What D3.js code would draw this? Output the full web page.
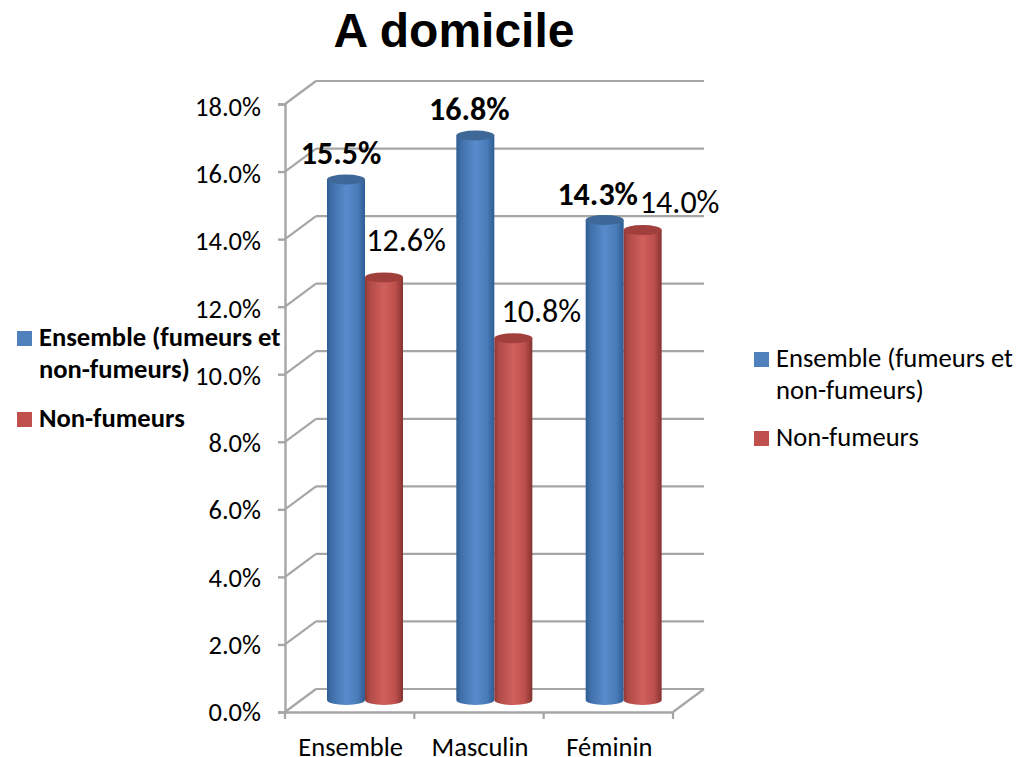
<!DOCTYPE html>
<html>
<head>
<meta charset="utf-8">
<script src="https://cdn.jsdelivr.net/npm/d3@7"></script>
<style>
html, body { margin: 0; padding: 0; background: #fff; }
svg { display: block; }
text { font-family: Carlito, Lato, "Open Sans", sans-serif; fill: #000; }
</style>
</head>
<body>
<div id="chart"></div>
<script>
var categories = ["Ensemble", "Masculin", "Féminin"];
var seriesNames = ["Ensemble (fumeurs et non-fumeurs)", "Non-fumeurs"];
var ensemble = [15.5, 16.8, 14.3];
var nonFumeurs = [12.6, 10.8, 14.0];
var yTicks = [0, 2, 4, 6, 8, 10, 12, 14, 16, 18];

var width = 1029, height = 757;
var depthX = 31, depthY = 23;

var svg = d3.select("#chart").append("svg")
	.attr("width", width)
	.attr("height", height);

var y = d3.scaleLinear().domain([0, 18]).range([712, 104]);
var x = d3.scaleBand().domain(categories).range([285, 673]);
var inner = d3.scaleBand().domain(seriesNames).range([42, 118]);

// cylinder shading
var defs = svg.append("defs");
function gradient(id, stops) {
	var g = defs.append("linearGradient").attr("id", id);
	stops.forEach(function(s) {
		g.append("stop").attr("offset", s[0]).attr("stop-color", s[1]);
	});
}
gradient("blueBar", [[0, "#2f5c92"], [0.12, "#3f6fa9"], [0.5, "#588bcb"], [0.8, "#4a7cb9"], [1, "#2f5d94"]]);
gradient("redBar", [[0, "#8f3836"], [0.12, "#b04a47"], [0.5, "#d0605c"], [0.8, "#bd4f4c"], [1, "#843432"]]);

var grey = "#a6a6a6";

// back wall and side wall lines
svg.selectAll("line.grid").data(yTicks).enter().append("line")
	.attr("class", "grid")
	.attr("x1", x.range()[0] + depthX)
	.attr("x2", x.range()[1] + depthX)
	.attr("y1", function(d) { return y(d) - depthY; })
	.attr("y2", function(d) { return y(d) - depthY; })
	.attr("stroke", grey).attr("stroke-width", 2.2);
svg.selectAll("line.side").data(yTicks).enter().append("line")
	.attr("class", "side")
	.attr("x1", x.range()[0])
	.attr("x2", x.range()[0] + depthX)
	.attr("y1", function(d) { return y(d); })
	.attr("y2", function(d) { return y(d) - depthY; })
	.attr("stroke", grey).attr("stroke-width", 2.2);
svg.append("line")
	.attr("x1", x.range()[1]).attr("x2", x.range()[1] + depthX)
	.attr("y1", y(0)).attr("y2", y(0) - depthY)
	.attr("stroke", grey).attr("stroke-width", 2.2);

// axes
var yAxis = svg.append("g")
	.attr("transform", "translate(" + x.range()[0] + ",0)")
	.call(d3.axisLeft(y).tickValues(yTicks).tickSize(7).tickPadding(17)
		.tickFormat(function(d) { return d3.format(".1f")(d) + "%"; }));
var xAxis = svg.append("g")
	.attr("transform", "translate(0," + y(0) + ")")
	.call(d3.axisBottom(x).tickSize(0).tickPadding(25));
svg.selectAll("line.xtick").data(d3.range(categories.length + 1)).enter().append("line")
	.attr("class", "xtick")
	.attr("x1", function(i) { return x.range()[0] + i * x.step(); })
	.attr("x2", function(i) { return x.range()[0] + i * x.step(); })
	.attr("y1", y(0)).attr("y2", y(0) + 7)
	.attr("stroke", grey).attr("stroke-width", 2.2);
[yAxis, xAxis].forEach(function(a) {
	a.selectAll("path, .tick line").attr("stroke", grey).attr("stroke-width", 2.4);
	a.selectAll("text").style("font-size", "26.5px")
		.style("font-family", "Carlito, Lato, sans-serif").attr("fill", "#000");
});
xAxis.selectAll(".tick text").attr("dx", 1);
// the printed labels sit a little lower than their ticks toward the top
yAxis.selectAll(".tick text").attr("y", function(d) { return d / 6; });

// bars, drawn as cylinders
var baseDepth = 12, topDepth = 9, rx = 19, ry = 5;
function cylinders(values, name, fillId, topColor) {
	var g = svg.append("g").selectAll("g").data(values).enter().append("g");
	function cx(d, i) { return x(categories[i]) + inner(name) + inner.bandwidth() / 2; }
	g.append("path")
		.attr("fill", "url(#" + fillId + ")")
		.attr("d", function(d, i) {
			var c = cx(d, i), top = y(d) - topDepth, base = y(0) - baseDepth;
			return "M" + (c - rx) + "," + top + "V" + base +
				"A" + rx + "," + ry + " 0 0 0 " + (c + rx) + "," + base +
				"V" + top + "Z";
		});
	g.append("ellipse")
		.attr("cx", cx)
		.attr("cy", function(d) { return y(d) - topDepth; })
		.attr("rx", rx).attr("ry", ry)
		.attr("fill", topColor);
}
cylinders(ensemble, seriesNames[0], "blueBar", "#3d6897");
cylinders(nonFumeurs, seriesNames[1], "redBar", "#a03f3c");

// data labels, nudged by hand like the original
var labelNudge = [
	[[-5, -15], [-6, -16], [-7, -15]],
	[[22, -26], [28, -16], [37, -17]]
];
function dataLabels(values, name, weight, nudge) {
	svg.append("g").selectAll("text").data(values).enter().append("text")
		.attr("x", function(d, i) { return x(categories[i]) + inner(name) + inner.bandwidth() / 2 + nudge[i][0]; })
		.attr("y", function(d, i) { return y(d) - topDepth + nudge[i][1]; })
		.attr("text-anchor", "middle")
		.style("font-size", "32px")
		.style("font-weight", weight)
		.text(function(d) { return d3.format(".1f")(d) + "%"; });
}
dataLabels(ensemble, seriesNames[0], "bold", labelNudge[0]);
dataLabels(nonFumeurs, seriesNames[1], "normal", labelNudge[1]);

// title
svg.append("text")
	.attr("x", 454).attr("y", 47)
	.attr("text-anchor", "middle")
	.style("font-family", "'Liberation Sans', Arial, sans-serif")
	.style("font-size", "48px")
	.style("font-weight", "bold")
	.text("A domicile");

// two legends, the left one bold
var seriesColors = ["#4f81bd", "#c0504d"];
function legend(left, rows, weight, size) {
	var g = svg.append("g");
	rows.forEach(function(r) {
		if (r.swatch !== undefined) {
			g.append("rect")
				.attr("x", left).attr("y", r.y - 15)
				.attr("width", 15).attr("height", 15)
				.attr("fill", seriesColors[r.swatch]);
		}
		g.append("text")
			.attr("x", left + 22).attr("y", r.y)
			.style("font-size", size)
			.style("font-weight", weight)
			.text(r.text);
	});
}
legend(17, [
	{ text: "Ensemble (fumeurs et", y: 346, swatch: 0 },
	{ text: "non-fumeurs)", y: 378 },
	{ text: "Non-fumeurs", y: 427, swatch: 1 }
], "bold", "26.6px");
legend(754, [
	{ text: "Ensemble (fumeurs et", y: 367, swatch: 0 },
	{ text: "non-fumeurs)", y: 399 },
	{ text: "Non-fumeurs", y: 446, swatch: 1 }
], "normal", "26.6px");
</script>
</body>
</html>
